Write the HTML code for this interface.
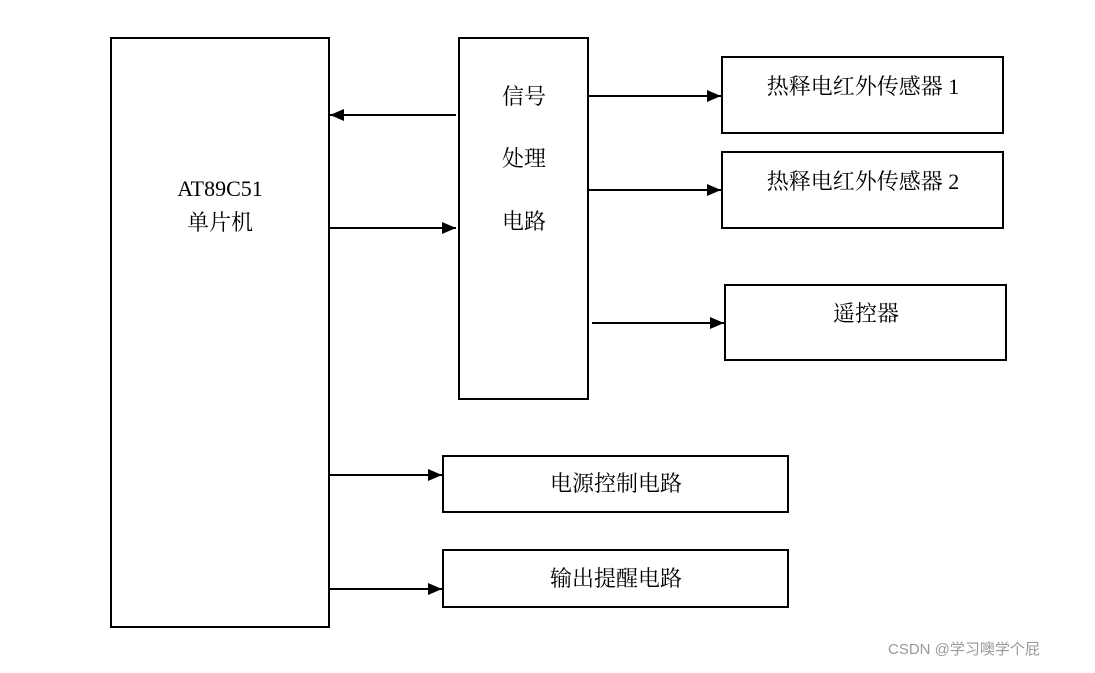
<!DOCTYPE html>
<html><head><meta charset="utf-8"><style>
body{margin:0;background:#fff;width:1095px;height:668px;overflow:hidden}
svg text{font-family:"Liberation Serif","Noto Serif CJK SC",serif;font-size:22px;fill:#000}
</style></head><body>
<svg width="1095" height="668" xmlns="http://www.w3.org/2000/svg">
<defs><marker id="a" markerWidth="14" markerHeight="12" refX="14" refY="6" orient="auto" markerUnits="userSpaceOnUse"><path d="M0,0 L14,6 L0,12 z" fill="#000"/></marker></defs>
<g fill="none" stroke="#000" stroke-width="2">
<rect x="111" y="38" width="218" height="589"/>
<rect x="459" y="38" width="129" height="361"/>
<rect x="722" y="57" width="281" height="76"/>
<rect x="722" y="152" width="281" height="76"/>
<rect x="725" y="285" width="281" height="75"/>
<rect x="443" y="456" width="345" height="56"/>
<rect x="443" y="550" width="345" height="57"/>
<line x1="456" y1="115" x2="330" y2="115" marker-end="url(#a)"/>
<line x1="329" y1="228" x2="456" y2="228" marker-end="url(#a)"/>
<line x1="588" y1="96" x2="721" y2="96" marker-end="url(#a)"/>
<line x1="588" y1="190" x2="721" y2="190" marker-end="url(#a)"/>
<line x1="592" y1="323" x2="724" y2="323" marker-end="url(#a)"/>
<line x1="329" y1="475" x2="442" y2="475" marker-end="url(#a)"/>
<line x1="329" y1="589" x2="442" y2="589" marker-end="url(#a)"/>
</g>
<text x="220" y="196" text-anchor="middle">AT89C51</text>
<text x="220" y="230" text-anchor="middle">单片机</text>
<text x="524" y="104" text-anchor="middle">信号</text>
<text x="524" y="166" text-anchor="middle">处理</text>
<text x="524" y="229" text-anchor="middle">电路</text>
<text x="863" y="94" text-anchor="middle">热释电红外传感器 1</text>
<text x="863" y="189" text-anchor="middle">热释电红外传感器 2</text>
<text x="866" y="321" text-anchor="middle">遥控器</text>
<text x="616" y="491" text-anchor="middle">电源控制电路</text>
<text x="616" y="586" text-anchor="middle">输出提醒电路</text>
<text x="888" y="654" style="font-family:'Liberation Sans','Noto Sans CJK SC',sans-serif;font-size:15px;fill:#999">CSDN @学习噢学个屁</text>
</svg>
</body></html>
